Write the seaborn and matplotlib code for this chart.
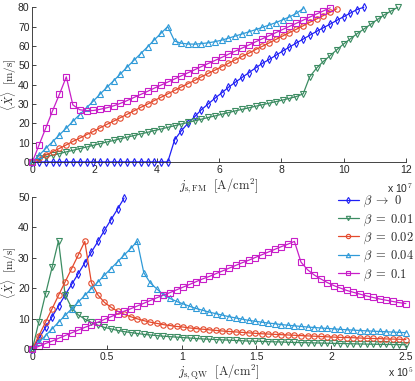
import matplotlib
matplotlib.use("Agg")
import matplotlib.pyplot as plt
import seaborn as sns

# ── Data ──────────────────────────────────────────────────────────────────────
# current density grids: top in 1e7 A/cm^2, bottom in 1e5 A/cm^2
J_FM = [0, 0.22, 0.43, 0.65, 0.87, 1.09, 1.30, 1.52, 1.74, 1.96, 2.17, 2.39, 2.61,
        2.83, 3.04, 3.26, 3.48, 3.70, 3.91, 4.13, 4.35, 4.57, 4.78, 5.00, 5.22,
        5.43, 5.65, 5.87, 6.09, 6.30, 6.52, 6.74, 6.96, 7.17, 7.39, 7.61, 7.83,
        8.04, 8.26, 8.48, 8.70, 8.91, 9.13, 9.35, 9.57, 9.78, 10.00, 10.22, 10.43,
        10.65, 10.87, 11.09, 11.30, 11.52, 11.74]
J_QW = [0, 0.044, 0.088, 0.132, 0.175, 0.219, 0.263, 0.307, 0.351, 0.395, 0.439,
        0.482, 0.526, 0.570, 0.614, 0.658, 0.702, 0.746, 0.789, 0.833, 0.877,
        0.921, 0.965, 1.009, 1.053, 1.096, 1.140, 1.184, 1.228, 1.272, 1.316,
        1.360, 1.404, 1.447, 1.491, 1.535, 1.579, 1.623, 1.667, 1.711, 1.754,
        1.798, 1.842, 1.886, 1.930, 1.974, 2.018, 2.061, 2.105, 2.149, 2.193,
        2.237, 2.281, 2.325, 2.368, 2.412, 2.456, 2.500]

# mean velocity <dX/dt> [m/s], FM case
V_FM_B0 = [0] * 21 + [11.4, 16, 20, 23.5, 27, 30, 33, 35.8, 38.6, 41.2, 43.7, 46.2,
                      48.6, 51, 53, 55.2, 57.3, 59.4, 61.5, 63.5, 65.5, 67.5, 69.4,
                      71.3, 73.2, 75.1, 77, 78.8, 80]
V_FM_001 = [0, 1.8, 2.6, 3.5, 4.3, 5.2, 6.0, 6.9, 7.7, 8.6, 9.4, 10.3, 11.1, 12.0,
            12.8, 13.6, 14.5, 15.3, 16.2, 17.0, 17.9, 18.7, 19.6, 20.4, 21.3, 22.1,
            23.0, 23.8, 24.7, 25.5, 26.4, 27.2, 28.0, 28.8, 29.6, 30.4, 31.2, 32.0,
            32.9, 33.8, 35.2, 44, 48.5, 52, 55, 58, 61, 63.7, 66.3, 68.7, 71.2, 73.7,
            76, 78, 80]
V_FM_002 = [0, 1.8, 3.5, 5.3, 7.0, 8.8, 10.6, 12.3, 14.1, 15.8, 17.6, 19.4, 21.1,
            22.9, 24.6, 26.4, 28.2, 29.9, 31.7, 33.4, 35.2, 37.0, 38.7, 40.5, 42.2,
            44.0, 45.8, 47.5, 49.3, 51.0, 52.8, 54.6, 56.3, 58.1, 59.8, 61.6, 63.4,
            65.1, 66.9, 68.6, 70.4, 72.2, 73.9, 75.7, 77.4, 79.2]
V_FM_004 = [0, 3.5, 7.0, 10.5, 14.0, 17.5, 21.0, 24.5, 28.0, 31.5, 35.0, 38.5, 42.0,
            45.5, 49.0, 52.5, 56.0, 59.5, 63.0, 66.5, 70.0, 62.5, 61.4, 61.0, 60.9,
            61.2, 61.6, 62.2, 63.0, 64.0, 65.1, 66.2, 67.3, 68.4, 69.6, 70.8, 72.1,
            73.5, 75.0, 76.8, 79.3]
V_FM_01 = [0, 9.0, 17.5, 26.5, 35.0, 44.0, 29.5, 27.0, 26.5, 26.6, 27.2, 28.0, 29.0,
           30.3, 31.7, 33.3, 34.9, 36.5, 38.1, 39.7, 41.3, 42.9, 44.5, 46.1, 47.7,
           49.3, 50.9, 52.5, 54.1, 55.7, 57.3, 58.9, 60.5, 62.1, 63.7, 65.3, 66.9,
           68.5, 70.1, 71.7, 73.3, 74.9, 76.5, 78.1, 79.7]

# mean velocity, QW case
V_QW_B0 = [0, 3.5, 7.1, 10.6, 14.1, 17.7, 21.2, 24.7, 28.3, 31.8, 35.3, 38.9, 42.4,
           45.9, 49.5]
V_QW_001 = [0, 9.0, 18.0, 26.8, 35.5, 17.8, 13.5, 11.2, 9.8, 8.7, 7.8, 7.1, 6.6, 6.1,
            5.7, 5.4, 5.1, 4.8, 4.6, 4.4, 4.2, 4.05, 3.9, 3.75, 3.6, 3.45, 3.3, 3.2,
            3.1, 3.0, 2.9, 2.8, 2.7, 2.6, 2.55, 2.5, 2.4, 2.35, 2.3, 2.2, 2.15, 2.1,
            2.05, 2.0, 1.95, 1.9, 1.85, 1.8, 1.75, 1.7, 1.65, 1.6, 1.57, 1.53, 1.5,
            1.47, 1.44, 1.4]
V_QW_002 = [0, 4.4, 8.8, 13.2, 17.6, 22.0, 26.4, 30.8, 35.3, 21.8, 17.7, 15.3, 13.7,
            12.4, 11.4, 10.6, 9.9, 9.3, 8.8, 8.4, 8.0, 7.7, 7.4, 7.2, 6.9, 6.7, 6.5,
            6.3, 6.1, 5.9, 5.75, 5.6, 5.45, 5.3, 5.15, 5.0, 4.9, 4.8, 4.7, 4.6, 4.5,
            4.4, 4.3, 4.2, 4.1, 4.0, 3.9, 3.8, 3.75, 3.7, 3.6, 3.5, 3.45, 3.4, 3.3,
            3.25, 3.2, 3.1]
V_QW_004 = [0, 2.2, 4.4, 6.6, 8.8, 11.0, 13.2, 15.4, 17.6, 19.8, 22.0, 24.2, 26.4,
            28.6, 30.8, 33.0, 35.3, 25.0, 21.7, 19.7, 17.8, 16.6, 15.6, 14.8, 14.0,
            13.3, 12.7, 12.1, 11.6, 11.1, 10.6, 10.2, 9.8, 9.4, 9.1, 8.8, 8.5, 8.3,
            8.0, 7.8, 7.6, 7.4, 7.2, 7.05, 6.9, 6.75, 6.6, 6.45, 6.3, 6.2, 6.05, 5.95,
            5.85, 5.75, 5.65, 5.55, 5.45, 5.35]
V_QW_01 = [0, 0.9, 1.8, 2.6, 3.5, 4.4, 5.3, 6.2, 7.1, 7.9, 8.8, 9.7, 10.6, 11.5, 12.4,
           13.2, 14.1, 15.0, 15.9, 16.8, 17.7, 18.5, 19.4, 20.3, 21.2, 22.1, 23.0,
           23.8, 24.7, 25.6, 26.5, 27.4, 28.3, 29.1, 30.0, 30.9, 31.8, 32.7, 33.6,
           34.4, 35.3, 28.5, 26.0, 24.3, 23.0, 21.8, 20.8, 20.0, 19.2, 18.6, 18.0,
           17.4, 16.9, 16.4, 16.0, 15.6, 15.2, 14.9]

LABELS = [r"$\beta\ \rightarrow\ 0$", r"$\beta\;=\;0.01$", r"$\beta\;=\;0.02$",
          r"$\beta\;=\;0.04$", r"$\beta\;=\;0.1$"]
COLORS = ["#1f1ff5", "#3c8c62", "#e4492c", "#2f9ad8", "#c81ec8"]
MARKERS = ["d", "v", "o", "^", "s"]

# ── Style ─────────────────────────────────────────────────────────────────────
sns.set_style("ticks")
plt.rcParams["font.family"] = ["Liberation Sans", "DejaVu Sans"]
plt.rcParams["mathtext.fontset"] = "cm"
plt.rcParams["xtick.direction"] = "in"
plt.rcParams["ytick.direction"] = "in"

fig = plt.figure(figsize=(4.15, 3.81), dpi=100)
ax_top = fig.add_axes([0.078, 0.575, 0.900, 0.406])
ax_bot = fig.add_axes([0.078, 0.084, 0.900, 0.400])


def draw(ax, xs_list, ys_list, with_labels):
    for xs, ys, lab, col, mk in zip(xs_list, ys_list, LABELS, COLORS, MARKERS):
        sns.lineplot(x=xs[:len(ys)], y=ys, ax=ax, color=col, marker=mk,
                     markersize=3.9, markerfacecolor="none", markeredgecolor=col,
                     markeredgewidth=0.8, linewidth=0.9, clip_on=False,
                     estimator=None, sort=False, legend=False,
                     label=lab if with_labels else None)


# ── Top: FM ───────────────────────────────────────────────────────────────────
draw(ax_top, [J_FM] * 5, [V_FM_B0, V_FM_001, V_FM_002, V_FM_004, V_FM_01], False)
ax_top.set_xlim(0, 12)
ax_top.set_ylim(0, 80)
ax_top.set_xticks(range(0, 13, 2))
ax_top.set_yticks(range(0, 81, 10))
ax_top.set_xlabel(r"$j_{\mathrm{s,FM}}\ \ \mathrm{[A/cm^2]}$", fontsize=9, labelpad=1)
ax_top.set_ylabel(r"$\langle\dot{X}\rangle\ \ \mathrm{[m/s]}$", fontsize=8)

# ── Bottom: QW ────────────────────────────────────────────────────────────────
draw(ax_bot, [J_QW] * 5, [V_QW_B0, V_QW_001, V_QW_002, V_QW_004, V_QW_01], True)
ax_bot.set_xlim(0, 2.5)
ax_bot.set_ylim(0, 50)
ax_bot.set_xticks([0, 0.5, 1, 1.5, 2, 2.5])
ax_bot.set_xticklabels(["0", "0.5", "1", "1.5", "2", "2.5"])
ax_bot.set_yticks(range(0, 51, 10))
ax_bot.set_xlabel(r"$j_{\mathrm{s,QW}}\ \ \mathrm{[A/cm^2]}$", fontsize=9, labelpad=1)
ax_bot.set_ylabel(r"$\langle\dot{X}\rangle\ \ \mathrm{[m/s]}$", fontsize=8)
ax_bot.legend(loc="upper right", bbox_to_anchor=(1.045, 1.075), frameon=False,
              fontsize=9, handlelength=1.7, handletextpad=0.3, labelspacing=0.24,
              markerscale=0.8, borderpad=0.2)

for ax in (ax_top, ax_bot):
    sns.despine(ax=ax)
    ax.tick_params(labelsize=7.5, length=3, width=0.6, pad=2)
    ax.yaxis.set_label_coords(-0.035, 0.5)
    for s in ("left", "bottom"):
        ax.spines[s].set_linewidth(0.6)

fig.text(0.995, 0.505, r"x 10$^7$", ha="right", va="center", fontsize=7.5)
fig.text(0.995, 0.024, r"x 10$^5$", ha="right", va="center", fontsize=7.5)

plt.savefig("out.png", dpi=100)
plt.close()
